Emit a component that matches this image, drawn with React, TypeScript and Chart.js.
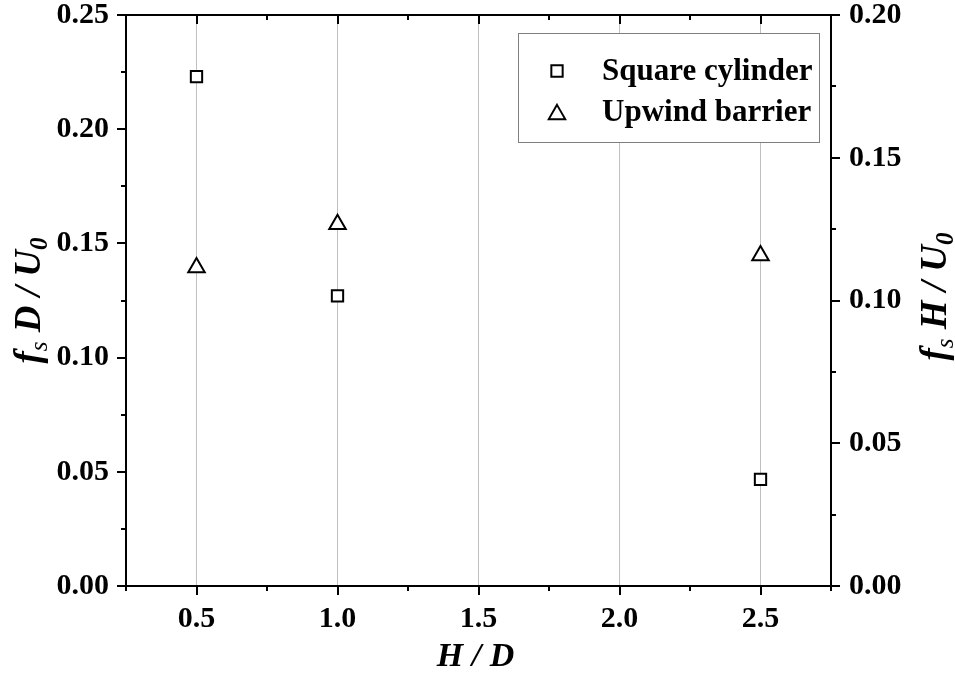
import React, { useEffect, useRef } from 'react';
import { Chart, registerables } from 'chart.js';

Chart.register(...registerables);

// ---- data ----
const hdValues = [0.5, 1.0, 2.5];
const squareCylinder = [0.223, 0.127, 0.0467]; // fs D / U0 (left axis)
const upwindBarrier = [0.1116, 0.1267, 0.1158]; // fs H / U0 (right axis)
const seriesNames = ['Square cylinder', 'Upwind barrier'];

const xMajorTicks = [0.5, 1.0, 1.5, 2.0, 2.5];
const xMinorTicks = [0.25, 0.75, 1.25, 1.75, 2.25, 2.75];
const leftMajorTicks = [0, 0.05, 0.1, 0.15, 0.2, 0.25];
const leftMinorTicks = [0.025, 0.075, 0.125, 0.175, 0.225];
const rightMajorTicks = [0, 0.05, 0.1, 0.15, 0.2];
const rightMinorTicks = [0.025, 0.075, 0.125, 0.175];

const SERIF = '"Liberation Serif", "Times New Roman", serif';
const TICK_FONT_SIZE = 30;
const XTITLE_SIZE = 34;
const YTITLE_SIZE = 37;
const LEGEND_SIZE = 31;

type Seg = { text: string; sub?: boolean; bold?: boolean };

function drawRich(ctx: CanvasRenderingContext2D, segs: Seg[], cx: number, baseline: number, size: number) {
  const fontFor = (s: Seg) =>
    `italic ${s.bold === false ? 'normal' : 'bold'} ${s.sub ? Math.round(size * 0.68) : size}px ${SERIF}`;
  let total = 0;
  const widths = segs.map((s) => {
    ctx.font = fontFor(s);
    const w = ctx.measureText(s.text).width;
    total += w;
    return w;
  });
  let x = cx - total / 2;
  ctx.textBaseline = 'alphabetic';
  ctx.textAlign = 'left';
  segs.forEach((s, i) => {
    ctx.font = fontFor(s);
    ctx.fillText(s.text, x, baseline + (s.sub ? size * 0.2 : 0));
    x += widths[i];
  });
}

const framePlugin = {
  id: 'frameTicks',
  afterDraw(chart: any) {
    const { ctx, chartArea: a, scales } = chart;
    const x = scales.x;
    const yl = scales.yL;
    const yr = scales.yR;
    ctx.save();
    ctx.strokeStyle = '#000';
    ctx.lineWidth = 2;
    const line = (x1: number, y1: number, x2: number, y2: number) => {
      ctx.beginPath();
      ctx.moveTo(x1, y1);
      ctx.lineTo(x2, y2);
      ctx.stroke();
    };
    line(a.left - 1, a.top, a.right + 1, a.top);
    const MAJ = 9;
    const MIN = 5;
    xMajorTicks.forEach((v) => {
      const p = Math.round(x.getPixelForValue(v));
      line(p, a.bottom, p, a.bottom + MAJ);
      line(p, a.top, p, a.top + MAJ);
    });
    xMinorTicks.forEach((v) => {
      const p = Math.round(x.getPixelForValue(v));
      line(p, a.bottom, p, a.bottom + MIN);
      line(p, a.top, p, a.top + MIN);
    });
    leftMajorTicks.forEach((v) => {
      const p = Math.round(yl.getPixelForValue(v));
      line(a.left - MAJ, p, a.left, p);
    });
    leftMinorTicks.forEach((v) => {
      const p = Math.round(yl.getPixelForValue(v));
      line(a.left - MIN, p, a.left, p);
    });
    rightMajorTicks.forEach((v) => {
      const p = Math.round(yr.getPixelForValue(v));
      line(a.right, p, a.right + MAJ, p);
    });
    rightMinorTicks.forEach((v) => {
      const p = Math.round(yr.getPixelForValue(v));
      line(a.right, p, a.right + MIN, p);
    });

    // axis titles
    ctx.fillStyle = '#000';
    const cy = (a.top + a.bottom) / 2;
    drawRich(ctx, [{ text: 'H / D' }], (a.left + a.right) / 2 - 3, a.bottom + 80, XTITLE_SIZE);

    ctx.save();
    ctx.translate(40, cy);
    ctx.rotate(-Math.PI / 2);
    drawRich(
      ctx,
      [{ text: 'f' }, { text: 's', sub: true, bold: false }, { text: ' D / U' }, { text: '0', sub: true }],
      0,
      0,
      YTITLE_SIZE
    );
    ctx.restore();

    ctx.save();
    ctx.translate(946, cy - 4);
    ctx.rotate(-Math.PI / 2);
    drawRich(
      ctx,
      [{ text: 'f' }, { text: 's', sub: true, bold: false }, { text: ' H / U' }, { text: '0', sub: true }],
      0,
      0,
      YTITLE_SIZE
    );
    ctx.restore();

    // legend box
    const lx = 518;
    const lRight = a.right - 12;
    const lTop = a.top + 18;
    const lBottom = lTop + 109;
    ctx.strokeStyle = '#7f7f7f';
    ctx.lineWidth = 1;
    ctx.fillStyle = '#fff';
    ctx.fillRect(lx, lTop, lRight - lx, lBottom - lTop);
    ctx.strokeRect(lx + 0.5, lTop + 0.5, lRight - lx, lBottom - lTop);
    const rows = [lTop + 38, lTop + 79];
    const mx = lx + 39;
    chart.data.datasets.forEach((ds: any, i: number) => {
      const yy = rows[i];
      ctx.strokeStyle = '#000';
      ctx.lineWidth = 2;
      ctx.fillStyle = '#fff';
      ctx.beginPath();
      if (ds.pointStyle === 'rect') {
        const s = ds.pointRadius * Math.SQRT1_2;
        ctx.rect(mx - s, yy - s, 2 * s, 2 * s);
      } else {
        const r = ds.pointRadius;
        const c = yy + r * 0.25;
        ctx.moveTo(mx, c - r);
        ctx.lineTo(mx + r * 0.866, c + r * 0.5);
        ctx.lineTo(mx - r * 0.866, c + r * 0.5);
        ctx.closePath();
      }
      ctx.fill();
      ctx.stroke();
      ctx.fillStyle = '#000';
      ctx.font = `bold ${LEGEND_SIZE}px ${SERIF}`;
      ctx.textAlign = 'left';
      ctx.textBaseline = 'middle';
      ctx.fillText(ds.label, lx + 84, yy + 1);
    });
    ctx.restore();
  },
};

export default function App() {
  const ref = useRef<HTMLCanvasElement | null>(null);

  useEffect(() => {
    if (!ref.current) return;
    const tickFont = { family: SERIF, size: TICK_FONT_SIZE, weight: 'bold' as const };
    const chart = new Chart(ref.current, {
      type: 'scatter',
      data: {
        datasets: [
          {
            label: seriesNames[0],
            data: hdValues.map((h, i) => ({ x: h, y: squareCylinder[i] })),
            yAxisID: 'yL',
            pointStyle: 'rect',
            pointRadius: 8,
            pointHoverRadius: 8,
            pointBorderWidth: 2,
            borderColor: '#000',
            backgroundColor: '#fff',
            showLine: false,
          },
          {
            label: seriesNames[1],
            data: hdValues.map((h, i) => ({ x: h, y: upwindBarrier[i] })),
            yAxisID: 'yR',
            pointStyle: 'triangle',
            pointRadius: 9.5,
            pointHoverRadius: 9.5,
            pointBorderWidth: 2,
            borderColor: '#000',
            backgroundColor: '#fff',
            showLine: false,
          },
        ],
      },
      options: {
        responsive: false,
        animation: false,
        layout: { padding: { top: 15, left: 0, right: 0, bottom: 0 } },
        plugins: { legend: { display: false }, tooltip: { enabled: false } },
        scales: {
          x: {
            type: 'linear',
            position: 'bottom',
            min: 0.25,
            max: 2.75,
            afterBuildTicks: (s: any) => {
              s.ticks = xMajorTicks.map((v) => ({ value: v }));
            },
            afterFit: (s: any) => {
              s.height = 88;
              s.paddingLeft = 0;
              s.paddingRight = 0;
            },
            grid: { display: true, color: '#c0c0c0', lineWidth: 1, drawTicks: false },
            border: { display: true, color: '#000', width: 2 },
            ticks: {
              font: tickFont,
              color: '#000',
              padding: 15,
              maxRotation: 0,
              callback: (v: any) => Number(v).toFixed(1),
            },
          },
          yL: {
            type: 'linear',
            position: 'left',
            min: 0,
            max: 0.25,
            afterBuildTicks: (s: any) => {
              s.ticks = leftMajorTicks.map((v) => ({ value: v }));
            },
            afterFit: (s: any) => {
              s.width = 126;
              s.paddingTop = 0;
              s.paddingBottom = 0;
            },
            grid: { display: false, drawTicks: false },
            border: { display: true, color: '#000', width: 2 },
            ticks: {
              font: tickFont,
              color: '#000',
              padding: 17,
              callback: (v: any) => Number(v).toFixed(2),
            },
          },
          yR: {
            type: 'linear',
            position: 'right',
            min: 0,
            max: 0.2,
            afterBuildTicks: (s: any) => {
              s.ticks = rightMajorTicks.map((v) => ({ value: v }));
            },
            afterFit: (s: any) => {
              s.width = 124;
              s.paddingTop = 0;
              s.paddingBottom = 0;
            },
            grid: { display: false, drawTicks: false },
            border: { display: true, color: '#000', width: 2 },
            ticks: {
              font: tickFont,
              color: '#000',
              padding: 18,
              callback: (v: any) => Number(v).toFixed(2),
            },
          },
        },
      },
      plugins: [framePlugin],
    });
    return () => chart.destroy();
  }, []);

  return (
    <div style={{ position: 'fixed', left: 0, top: 0, width: 955, height: 674, background: '#fff' }}>
      <canvas ref={ref} width={955} height={674} style={{ display: 'block' }} />
    </div>
  );
}
